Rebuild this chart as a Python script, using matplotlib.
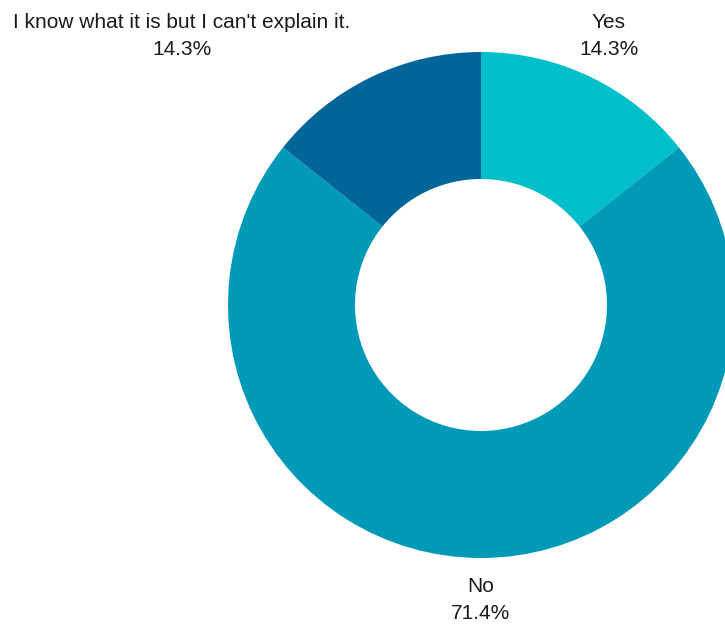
import matplotlib
matplotlib.use('Agg')
import matplotlib.pyplot as plt

labels = ['Yes', 'No', "I know what it is but I can't explain it."]
values = [14.3, 71.4, 14.3]
colors = ['#00bfc9', '#0099b8', '#006699']

plt.rcParams['font.family'] = ['Liberation Sans', 'DejaVu Sans']

fig = plt.figure(figsize=(7.25, 6.24), dpi=100)
ax = fig.add_axes([0, 0, 1, 1])
ax.set_aspect('equal')
ax.axis('off')

cx, cy = 481, 319
wedges, _ = ax.pie(values, colors=colors, startangle=90, counterclock=False,
                   center=(cx, cy), radius=253,
                   wedgeprops=dict(width=127, linewidth=0))
ax.set_xlim(0, 725)
ax.set_ylim(0, 624)

# label positions (pushed out like the original)
label_pos = [(609, 588), (481, 24), (182, 588)]
for lab, v, (x, y) in zip(labels, values, label_pos):
    ax.text(x, y, f'{lab}\n{v:.1f}%', ha='center', va='center',
            fontsize=15, color='#1a1a1a', linespacing=1.5)

fig.savefig('out.png', dpi=100)
